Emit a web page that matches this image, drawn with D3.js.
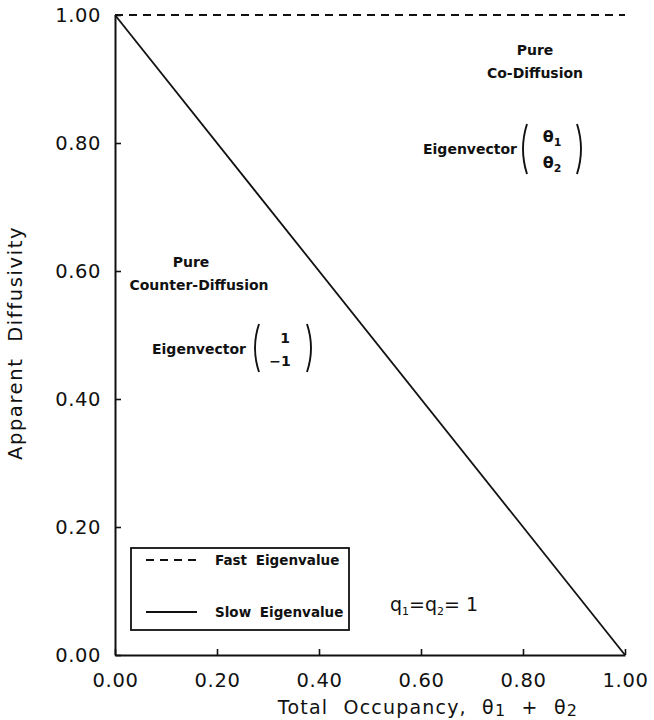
<!DOCTYPE html>
<html>
<head>
<meta charset="utf-8">
<script src="https://cdn.jsdelivr.net/npm/d3@7"></script>
<style>
  html, body { margin: 0; padding: 0; background: #fff; }
  svg text { font-family: "DejaVu Sans", "Liberation Sans", Arial, sans-serif; fill: #111; }
</style>
</head>
<body>
<script>
// Eigenvalues of the diffusion matrix vs. total occupancy (q1 = q2 = 1)
const occupancy = [0, 1];
const fastEigenvalue = [1, 1];
const slowEigenvalue = [1, 0];
const xTickValues = [0, 0.2, 0.4, 0.6, 0.8, 1.0];
const yTickValues = [0, 0.2, 0.4, 0.6, 0.8, 1.0];
const seriesNames = ["Fast Eigenvalue", "Slow Eigenvalue"];

const W = 654, H = 720;
const margin = { left: 115, right: 29, top: 15, bottom: 65 };

const svg = d3.select("body").append("svg")
  .attr("width", W).attr("height", H);

const x = d3.scaleLinear().domain([0, 1]).range([margin.left, W - margin.right]);
const y = d3.scaleLinear().domain([0, 1]).range([H - margin.bottom, margin.top]);
const fmt = d3.format(".2f");
const ink = "#111";
const bold = "\"Liberation Sans\", Arial, sans-serif";

// Axes with short inward ticks
const xAxis = svg.append("g")
  .attr("transform", `translate(0,${y(0)})`)
  .call(d3.axisBottom(x).tickValues(xTickValues).tickFormat(fmt).tickSizeInner(-6).tickSizeOuter(0).tickPadding(18));
const yAxis = svg.append("g")
  .attr("transform", `translate(${x(0)},0)`)
  .call(d3.axisLeft(y).tickValues(yTickValues).tickFormat(fmt).tickSizeInner(-6).tickSizeOuter(0).tickPadding(14));

[xAxis, yAxis].forEach(g => {
  g.select(".domain").attr("stroke", ink).attr("stroke-width", 2);
  g.selectAll(".tick line").attr("stroke", ink).attr("stroke-width", 1.6);
  g.selectAll(".tick text").attr("font-size", 19.5).attr("fill", ink)
    .attr("letter-spacing", "0.6px")
    .attr("font-family", "\"DejaVu Sans\", sans-serif");
});

// Series lines
const line = d3.line().x(d => x(d[0])).y(d => y(d[1]));
svg.append("path")
  .datum(d3.zip(occupancy, fastEigenvalue))
  .attr("d", line).attr("fill", "none").attr("stroke", ink)
  .attr("stroke-width", 1.8).attr("stroke-dasharray", "8,6");
svg.append("path")
  .datum(d3.zip(occupancy, slowEigenvalue))
  .attr("d", line).attr("fill", "none").attr("stroke", ink)
  .attr("stroke-width", 1.8);

// Axis titles
svg.append("text")
  .attr("transform", `translate(22,343) rotate(-90)`)
  .attr("text-anchor", "middle").attr("font-size", 19.5)
  .attr("letter-spacing", "1.6px").attr("word-spacing", "8px")
  .text("Apparent Diffusivity");

const xt = svg.append("text")
  .attr("x", 428).attr("y", 714)
  .attr("text-anchor", "middle").attr("font-size", 19)
  .attr("letter-spacing", "1.2px").attr("word-spacing", "8px");
xt.append("tspan").text("Total Occupancy,  θ");
xt.append("tspan").attr("dy", 2).attr("font-size", 16).text("1");
xt.append("tspan").attr("dy", -2).text(" + θ");
xt.append("tspan").attr("dy", 2).attr("font-size", 16).text("2");

// Legend
const lg = svg.append("g");
lg.append("rect")
  .attr("x", 131).attr("y", 548).attr("width", 218).attr("height", 82)
  .attr("fill", "#fff").attr("stroke", ink).attr("stroke-width", 1.8);
const legendRows = [
  { name: seriesNames[0], dash: "8,6", cy: 560 },
  { name: seriesNames[1], dash: null, cy: 612 }
];
legendRows.forEach(r => {
  lg.append("line")
    .attr("x1", 146).attr("x2", 197).attr("y1", r.cy).attr("y2", r.cy)
    .attr("stroke", ink).attr("stroke-width", 1.8)
    .attr("stroke-dasharray", r.dash);
  lg.append("text")
    .attr("x", 215).attr("y", r.cy + 5)
    .attr("font-family", bold)
    .attr("font-size", 13.5).attr("font-weight", "bold")
    .attr("word-spacing", "4px")
    .text(r.name);
});

// Parameter note
const q = svg.append("text").attr("x", 390).attr("y", 611).attr("font-size", 19);
q.append("tspan").text("q");
q.append("tspan").attr("dy", 4).attr("font-size", 11).text("1");
q.append("tspan").attr("dy", -4).text("=q");
q.append("tspan").attr("dy", 4).attr("font-size", 11).text("2");
q.append("tspan").attr("dy", -4).text("= 1");

// Region annotations
function parens(cx, cy, halfW, halfH) {
  const g = svg.append("g").attr("fill", "none").attr("stroke", ink).attr("stroke-width", 1.9);
  [-1, 1].forEach(s => {
    const xe = cx + s * halfW;
    g.append("path").attr("d",
      `M${xe - s * 3},${cy - halfH} Q${xe + s * 5},${cy} ${xe - s * 3},${cy + halfH}`);
  });
}

function label(xc, yc, txt, size) {
  svg.append("text").attr("x", xc).attr("y", yc)
    .attr("text-anchor", "middle").attr("font-size", size || 14)
    .attr("font-family", bold)
    .attr("font-weight", "bold").text(txt);
}

// Co-diffusion region (upper right)
label(535, 55, "Pure");
label(535, 78, "Co-Diffusion");
label(470, 154, "Eigenvector");
parens(552, 149, 28, 25);
const t1 = svg.append("text").attr("x", 552).attr("y", 142).attr("text-anchor", "middle")
  .attr("font-size", 16).attr("font-weight", "bold").attr("font-family", bold);
t1.append("tspan").text("θ");
t1.append("tspan").attr("dy", 4).attr("font-size", 11).text("1");
const t2 = svg.append("text").attr("x", 552).attr("y", 168).attr("text-anchor", "middle")
  .attr("font-size", 16).attr("font-weight", "bold").attr("font-family", bold);
t2.append("tspan").text("θ");
t2.append("tspan").attr("dy", 4).attr("font-size", 11).text("2");

// Counter-diffusion region (left)
label(191, 267, "Pure");
label(199, 290, "Counter-Diffusion");
label(199, 354, "Eigenvector");
parens(283, 348, 27, 24);
svg.append("text").attr("x", 285).attr("y", 343).attr("text-anchor", "middle")
  .attr("font-family", bold)
  .attr("font-size", 14).attr("font-weight", "bold").text("1");
svg.append("text").attr("x", 280).attr("y", 366).attr("text-anchor", "middle")
  .attr("font-family", bold)
  .attr("font-size", 14).attr("font-weight", "bold").text("−1");
</script>
</body>
</html>
